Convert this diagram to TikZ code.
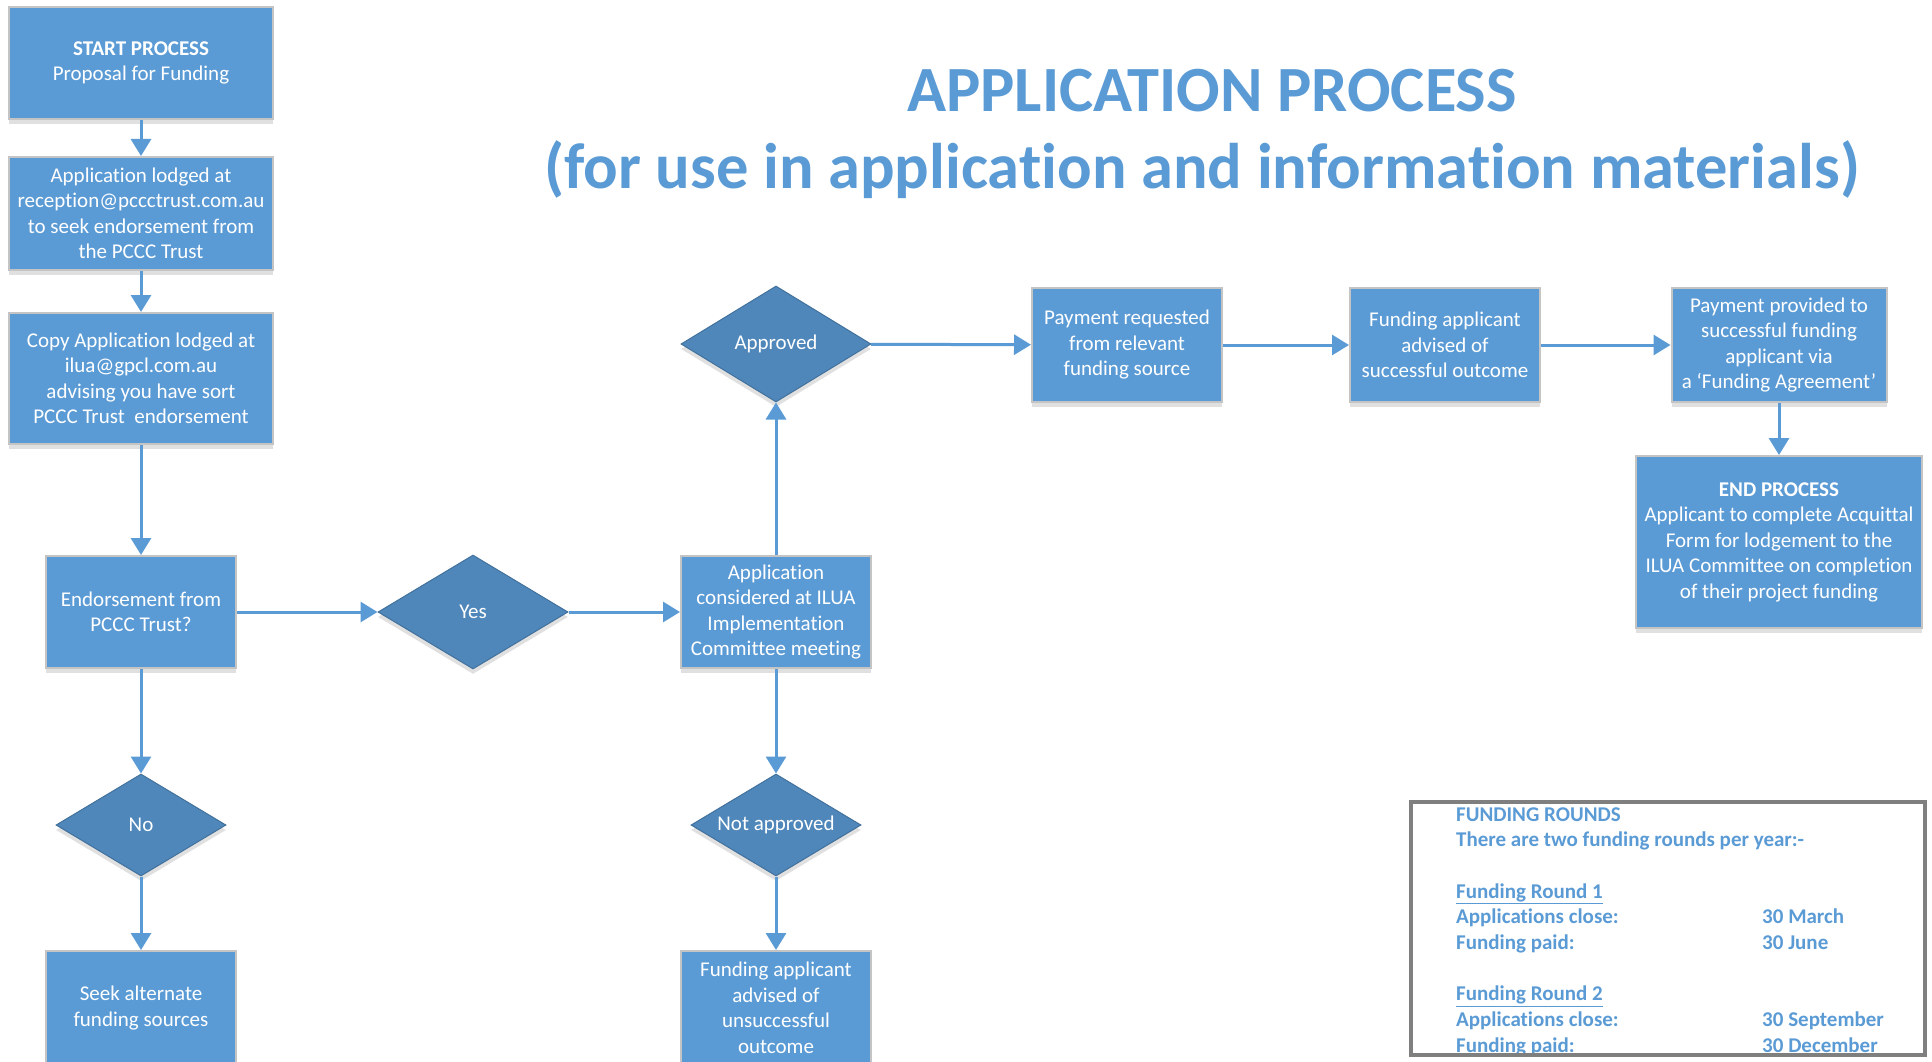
\documentclass[tikz,border=0pt]{standalone}
\usepackage{fontspec}
\setmainfont{Carlito}[Ligatures={TeX,NoCommon}]
\usetikzlibrary{shapes.geometric,arrows.meta,shadows}
\definecolor{boxblue}{HTML}{5B9BD5}
\definecolor{diablue}{HTML}{4F87BA}
\definecolor{diaedge}{HTML}{41719C}
\definecolor{boxedge}{HTML}{C4C4C4}
\definecolor{txtblue}{HTML}{5B9BD5}
\definecolor{frame}{HTML}{7F7F7F}
\tikzset{
  stepbox/.style={rectangle, fill=boxblue, draw=boxedge, line width=2pt, inner sep=2pt,
    text=white, align=center, font=\fontsize{21}{25.5}\selectfont,
    drop shadow={shadow xshift=0pt, shadow yshift=-5pt, opacity=0.12, fill=black}},
  decision/.style={diamond, aspect=1.67, fill=diablue, draw=diaedge, line width=1pt, inner sep=0pt,
    text=white, align=center, font=\fontsize{21}{25.5}\selectfont,
    drop shadow={shadow xshift=0pt, shadow yshift=-5pt, opacity=0.12, fill=black}},
  flow/.style={draw=boxblue, line width=3pt, -{Triangle[width=20pt,length=17pt]}},
  titletext/.style={anchor=base, text=txtblue, font=\fontsize{64.5}{76}\selectfont\bfseries, inner sep=0pt},
}
\begin{document}
\begin{tikzpicture}[x=1pt,y=-1pt]
\useasboundingbox (0,0) rectangle (1932,1062);
\clip (0,0) rectangle (1932,1062);
\fill[white] (0,0) rectangle (1932,1062);

% title
\node[titletext] (t1) at (1212,112) {APPLICATION PROCESS};
\node[titletext] (t2) at (1202,188) {(for use in application and information materials)};

% left column
\node[stepbox, minimum width=264pt, minimum height=112pt] (start) at (141,63) {\textbf{START PROCESS}\\Proposal for Funding};
\node[stepbox, minimum width=264pt, minimum height=113pt] (lodge) at (141,213.5) {Application lodged at\\reception@pccctrust.com.au\\to seek endorsement from\\the PCCC Trust};
\node[stepbox, minimum width=264pt, minimum height=131pt] (copy) at (141,378.5) {Copy Application lodged at\\ilua@gpcl.com.au\\advising you have sort\\PCCC Trust\ \ endorsement};
\node[stepbox, minimum width=190pt, minimum height=112pt] (endorse) at (141,612) {Endorsement from\\PCCC Trust?};
\node[decision, minimum width=170pt, minimum height=102pt] (no) at (141,825) {No};
\node[stepbox, minimum width=190pt, minimum height=114pt] (seek) at (141,1008) {Seek alternate\\funding sources};

% middle
\node[decision, minimum width=190pt, minimum height=114pt] (yes) at (473,612) {Yes};
\node[stepbox, minimum width=190pt, minimum height=112pt] (consider) at (776,612) {Application\\considered at ILUA\\Implementation\\Committee meeting};
\node[decision, minimum width=190pt, minimum height=116pt] (approved) at (776,344) {Approved};
\node[decision, minimum width=170pt, minimum height=102pt] (notappr) at (776,825) {Not approved};
\node[stepbox, minimum width=190pt, minimum height=114pt] (unsucc) at (776,1008) {Funding applicant\\advised of\\unsuccessful\\outcome};

% top row right
\node[stepbox, minimum width=190pt, minimum height=114pt] (payreq) at (1127,345) {Payment requested\\from relevant\\funding source};
\node[stepbox, minimum width=190pt, minimum height=114pt] (advised) at (1445,345) {Funding applicant\\advised of\\successful outcome};
\node[stepbox, minimum width=215pt, minimum height=114pt] (payprov) at (1779,345) {Payment provided to\\successful funding\\applicant via\\a ‘Funding Agreement’};
\node[stepbox, minimum width=286pt, minimum height=172pt] (endp) at (1779,542) {\textbf{END PROCESS}\\Applicant to complete Acquittal\\Form for lodgement to the\\ILUA Committee on completion\\of their project funding};

% connectors
\draw[flow] (start) -- (lodge);
\draw[flow] (lodge) -- (copy);
\draw[flow] (copy) -- (endorse);
\draw[flow] (endorse) -- (yes);
\draw[flow] (yes) -- (consider);
\draw[flow] (consider) -- (approved);
\draw[flow] (consider) -- (notappr);
\draw[flow] (endorse) -- (no);
\draw[flow] (no) -- (seek);
\draw[flow] (notappr) -- (unsucc);
\draw[flow] (approved) -- (payreq);
\draw[flow] (payreq) -- (advised);
\draw[flow] (advised) -- (payprov);
\draw[flow] (payprov) -- (endp);

% funding rounds
\node[anchor=base west, inner sep=0pt, text=txtblue, font=\fontsize{21}{25.7}\selectfont\bfseries] (rounds) at (1456,821)
{\begin{tabular}[t]{@{}p{306pt}@{}l@{}}
FUNDING ROUNDS & \\
\multicolumn{2}{@{}l@{}}{There are two funding rounds per year:-}\\
 & \\
\underline{Funding Round 1} & \\
Applications close: & 30 March\\
Funding paid: & 30 June\\
 & \\
\underline{Funding Round 2} & \\
Applications close: & 30 September\\
Funding paid: & 30 December\\
\end{tabular}};
\node[draw=frame, line width=4pt, minimum width=514pt, minimum height=253pt, inner sep=0pt] (frbox) at (1668,928.5) {};
\end{tikzpicture}
\end{document}
